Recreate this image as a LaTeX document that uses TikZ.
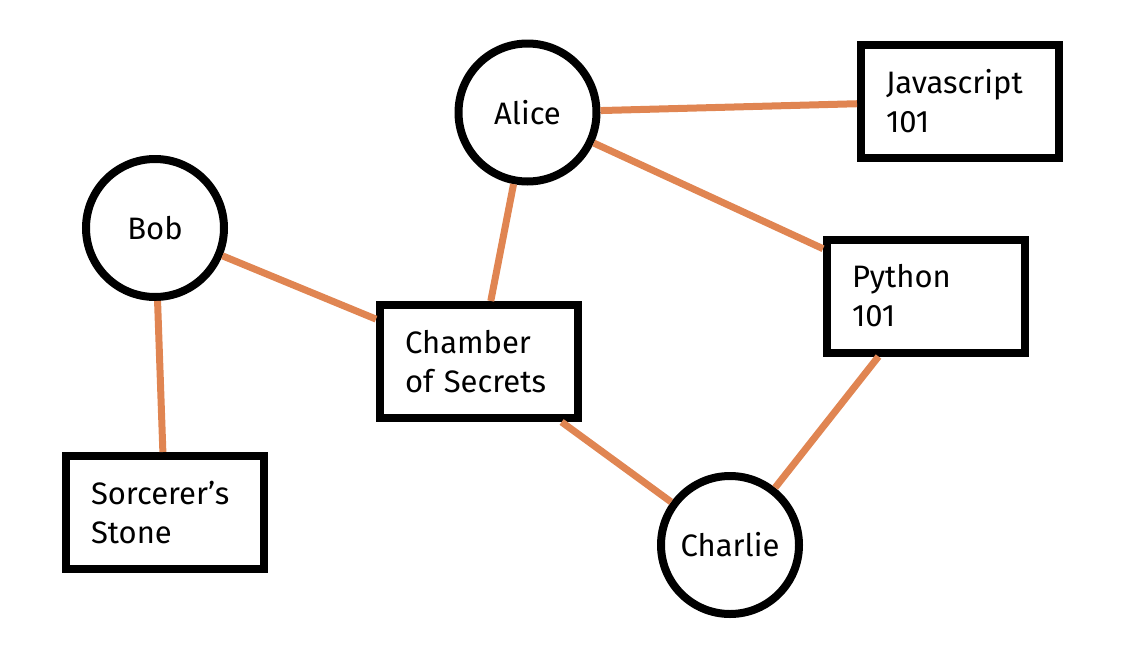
\documentclass[tikz,border=0pt]{standalone}
\usepackage{fontspec}
\setmainfont{Fira Sans}
\definecolor{edge color}{HTML}{E08552}
\tikzset{
    x={1pt},
    y={-1pt},
    person/.style={
        draw=black, fill=white,
        circle,
        line width={8pt},
        minimum size={138},
        inner sep=0pt,
        font={\fontsize{31pt}{39pt}\selectfont},
    },
    course/.style={
        draw=black, fill=white,
        rectangle,
        line width={8pt},
        text width={148},
        inner xsep={25},
        inner ysep=0pt,
        minimum height={113},
        align=left,
        font={\fontsize{31pt}{39pt}\selectfont},
    },
    link/.style={
        draw={edge color},
        line width={7pt},
    },
}

\begin{document}
\begin{tikzpicture}
\useasboundingbox (0,0) rectangle (1125,667);
% people
\node[person] (alice) at (527.5,112.5) {Alice};
\node[person] (bob) at (155,228) {Bob};
\node[person] (charlie) at (730,545) {Charlie};
% courses
\node[course] (javascript) at (960,101) {Javascript\\101};
\node[course] (python) at (926,296) {Python\\101};
\node[course] (chamber) at (479,361.5) {Chamber\\of Secrets};
\node[course] (stone) at (165,512.5) {Sorcerer’s\\Stone};
% enrolments
\path[link] (alice) -- (javascript);
\path[link] (alice) -- (python);
\path[link] (alice) -- (chamber);
\path[link] (bob) -- (chamber);
\path[link] (bob) -- (stone);
\path[link] (chamber) -- (charlie);
\path[link] (python) -- (charlie);
\end{tikzpicture}
\end{document}
